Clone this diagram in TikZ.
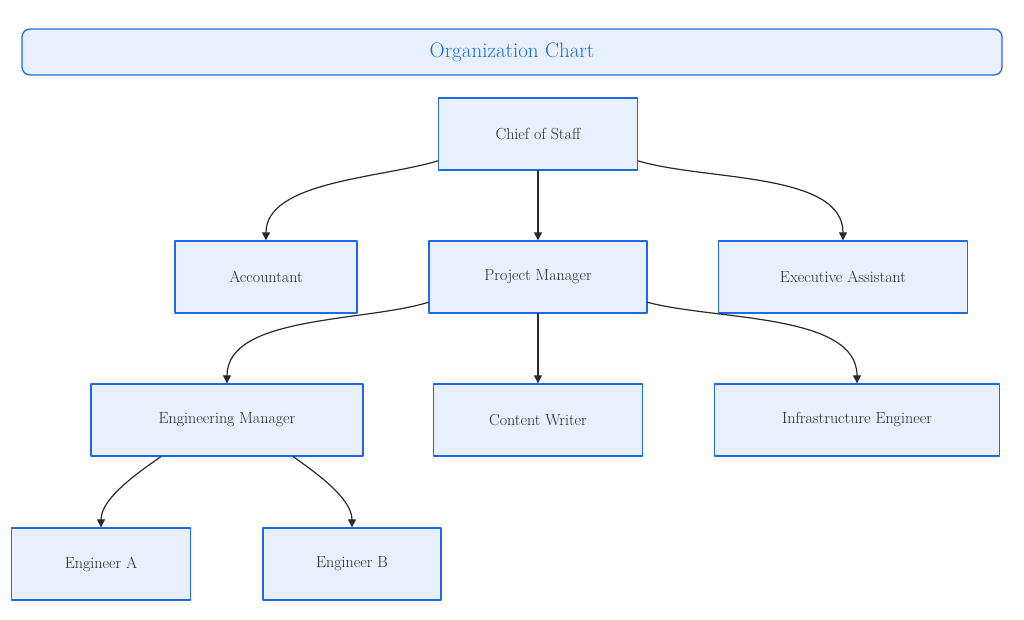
\documentclass[tikz,border=0pt]{standalone}
\usetikzlibrary{arrows.meta}
\definecolor{boxblue}{HTML}{1C6AE4}
\definecolor{boxfill}{HTML}{E8F0FC}
\definecolor{inkgray}{HTML}{2A2A2A}
\begin{document}
\begin{tikzpicture}[x=1pt, y=-1pt, >={Triangle[length=8pt,width=8pt]}, line cap=round, line join=round,
  box/.style={draw=boxblue, fill=boxfill, line width=1.3pt, font=\fontsize{16}{19}\selectfont, text=inkgray, inner sep=0pt},
  edge/.style={->, draw=inkgray, line width=1.2pt, looseness=0.8}]

  \useasboundingbox (0,0) rectangle (1024,619);

  %========================
  % title
  %========================
  \node[box, rounded corners=8pt, minimum width=980pt, minimum height=46pt, text=boxblue, font=\fontsize{21}{25}\selectfont] (title) at (512,52) {Organization Chart};

  %========================
  % boxes
  %========================
  \node[box, minimum width=199pt, minimum height=72pt] (chief) at (538,134) {Chief of Staff};
  \node[box, minimum width=182pt, minimum height=72pt] (acc) at (266,277) {Accountant};
  \node[box, minimum width=218pt, minimum height=72pt] (pm) at (538,277) {Project Manager};
  \node[box, minimum width=249pt, minimum height=72pt] (ea) at (843,277) {Executive Assistant};
  \node[box, minimum width=272pt, minimum height=72pt] (em) at (227,420) {Engineering Manager};
  \node[box, minimum width=209pt, minimum height=72pt] (cw) at (538,420) {Content Writer};
  \node[box, minimum width=285pt, minimum height=72pt] (ie) at (857,420) {Infrastructure Engineer};
  \node[box, minimum width=179pt, minimum height=72pt] (enga) at (101,564) {Engineer A};
  \node[box, minimum width=178pt, minimum height=72pt] (engb) at (352,564) {Engineer B};

  %========================
  % connectors
  %========================
  \draw[edge] (chief.195) to[out=197, in=90] (acc.north);
  \draw[edge] (chief.south) -- (pm.north);
  \draw[edge] (chief.345) to[out=-17, in=90] (ea.north);
  \draw[edge] (pm.193) to[out=197, in=90] (em.north);
  \draw[edge] (pm.south) -- (cw.north);
  \draw[edge] (pm.347) to[out=-15, in=90] (ie.north);
  \draw[edge] (em.209) to[out=215, in=90] (enga.north);
  \draw[edge] (em.331) to[out=325, in=90] (engb.north);

\end{tikzpicture}
\end{document}
